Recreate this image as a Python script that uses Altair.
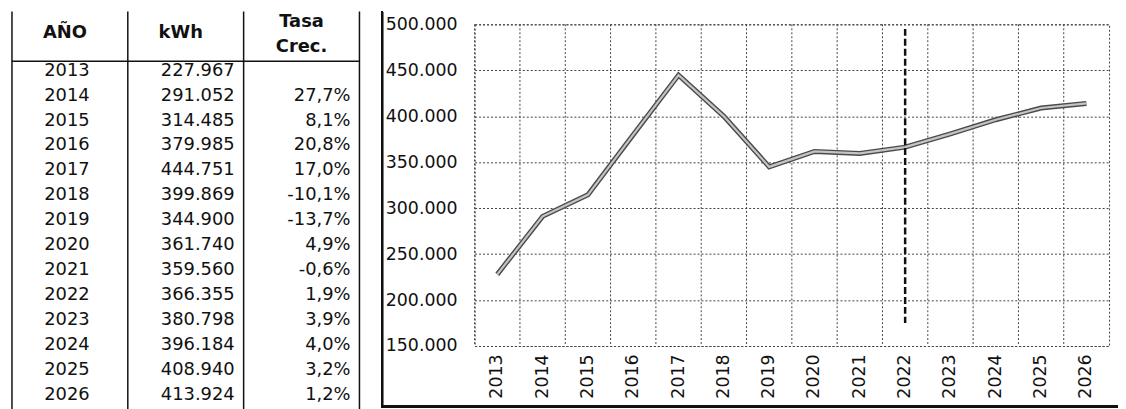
import altair as alt
import pandas as pd

# ---- data ----
years = [2013, 2014, 2015, 2016, 2017, 2018, 2019, 2020, 2021, 2022, 2023, 2024, 2025, 2026]
kwh = [227967, 291052, 314485, 379985, 444751, 399869, 344900, 361740, 359560,
       366355, 380798, 396184, 408940, 413924]
rates = [None, 27.7, 8.1, 20.8, 17.0, -10.1, -13.7, 4.9, -0.6, 1.9, 3.9, 4.0, 3.2, 1.2]
columns = ["AÑO", "kWh", "Tasa Crec."]
header_main = ["AÑO", "kWh"]
header_rate = ["Tasa", "Crec."]
y_ticks = [150000, 200000, 250000, 300000, 350000, 400000, 450000, 500000]
y_domain = [150000, 500000]
forecast_year = 2022
forecast_span = [495000, 175000]

FONT = "DejaVu Sans"
INK = "#111111"
GRID = "#444444"


def fmt_int(v):
    return f"{v:,}".replace(",", ".")


def fmt_rate(r):
    return f"{r:.1f}%".replace(".", ",")


# ---- line chart group ----
line_df = pd.DataFrame({"year": years, "kwh": kwh})
xs = alt.Scale(domain=years, paddingInner=0, paddingOuter=0)
ys = alt.Scale(domain=y_domain, nice=False, zero=False)

x_axis = alt.Axis(title=None, labelAngle=270, labelPadding=8, ticks=False, domain=False,
                  grid=False, labelFont=FONT, labelFontSize=17.5, labelColor=INK)
y_axis = alt.Axis(title=None, values=y_ticks,
                  labelExpr="replace(format(datum.value, ','), ',', '.')",
                  labelAlign="left", labelBaseline="middle", labelPadding=90, ticks=False,
                  domain=False, grid=True, gridDash=[2, 2], gridColor=GRID, gridWidth=1,
                  labelFont=FONT, labelFontSize=17.5, labelColor=INK)

vgrid = alt.Chart(pd.DataFrame({"year": years})).mark_rule(
    color=GRID, strokeDash=[2, 2], strokeWidth=1
).encode(x=alt.X("year:O", scale=xs, axis=x_axis, bandPosition=0))

line_outer = alt.Chart(line_df).mark_line(color="#4a4a4a", strokeWidth=5).encode(
    x=alt.X("year:O", scale=xs, axis=x_axis),
    y=alt.Y("kwh:Q", scale=ys, axis=y_axis),
)
line_inner = alt.Chart(line_df).mark_line(color="#c4c4c4", strokeWidth=2.2).encode(
    x=alt.X("year:O", scale=xs, axis=x_axis),
    y=alt.Y("kwh:Q", scale=ys, axis=y_axis),
)

fc_df = pd.DataFrame({"year": [forecast_year], "y1": [forecast_span[0]], "y2": [forecast_span[1]]})
forecast_rule = alt.Chart(fc_df).mark_rule(color=INK, strokeWidth=2.5, strokeDash=[7, 3]).encode(
    x=alt.X("year:O", scale=xs, axis=x_axis),
    y=alt.Y("y1:Q", scale=ys, axis=y_axis),
    y2="y2:Q",
)

frame_left = alt.Chart(line_df).mark_rule(color=INK, strokeWidth=1.5).encode(
    x=alt.value(-93), y=alt.value(-13), y2=alt.value(386)
)
frame_bottom = alt.Chart(line_df).mark_rule(color=INK, strokeWidth=2.5).encode(
    x=alt.value(-93), x2=alt.value(650), y=alt.value(385)
)

line_group = alt.layer(vgrid, line_outer, line_inner, forecast_rule, frame_left, frame_bottom)

# ---- table group ----
row_domain = ["h1", "h2"] + [str(y) for y in years]
cs = alt.Scale(domain=columns, range=[-466, -116], paddingInner=0, paddingOuter=0)
rs = alt.Scale(domain=row_domain, range=[-13, 388.6], paddingInner=0, paddingOuter=0)

body_rows = []
for y, k, r in zip(years, kwh, rates):
    body_rows.append({"col": "AÑO", "row": str(y), "t": str(y)})
    body_rows.append({"col": "kWh", "row": str(y), "t": fmt_int(k)})
    if r is not None:
        body_rows.append({"col": "Tasa Crec.", "row": str(y), "t": fmt_rate(r)})
body_df = pd.DataFrame(body_rows)

hdr_main_df = pd.DataFrame({"col": ["AÑO", "kWh"], "row": ["h2", "h2"], "t": header_main})
hdr_rate_df = pd.DataFrame({"col": ["Tasa Crec.", "Tasa Crec."], "row": ["h1", "h2"], "t": header_rate})

years_txt = alt.Chart(body_df).transform_filter(alt.datum.col == "AÑO").mark_text(
    font=FONT, fontSize=18, color=INK, align="center", baseline="middle", dx=-3, dy=-3
).encode(x=alt.X("col:N", scale=cs, axis=None), y=alt.Y("row:N", scale=rs, axis=None), text="t:N")

kwh_txt = alt.Chart(body_df).transform_filter(alt.datum.col == "kWh").mark_text(
    font=FONT, fontSize=18, color=INK, align="right", baseline="middle", dx=-9, dy=-3
).encode(x=alt.X("col:N", scale=cs, axis=None, bandPosition=1),
         y=alt.Y("row:N", scale=rs, axis=None), text="t:N")

rate_txt = alt.Chart(body_df).transform_filter(alt.datum.col == "Tasa Crec.").mark_text(
    font=FONT, fontSize=18, color=INK, align="right", baseline="middle", dx=-9, dy=-3
).encode(x=alt.X("col:N", scale=cs, axis=None, bandPosition=1),
         y=alt.Y("row:N", scale=rs, axis=None), text="t:N")

hdr_main = alt.Chart(hdr_main_df).mark_text(
    font=FONT, fontSize=18, fontWeight="bold", color=INK, align="center", baseline="middle", dx=-5, dy=-3
).encode(x=alt.X("col:N", scale=cs, axis=None),
         y=alt.Y("row:N", scale=rs, axis=None, bandPosition=0), text="t:N")

hdr_rate = alt.Chart(hdr_rate_df).mark_text(
    font=FONT, fontSize=18, fontWeight="bold", color=INK, align="center", baseline="middle", dy=-2
).encode(x=alt.X("col:N", scale=cs, axis=None),
         y=alt.Y("row:N", scale=rs, axis=None), text="t:N")

col_df = pd.DataFrame({"col": columns})
vlines = alt.Chart(col_df).mark_rule(color=INK, strokeWidth=1.5).encode(
    x=alt.X("col:N", scale=cs, axis=None, bandPosition=0), y=alt.value(-13), y2=alt.value(390)
)
vline_end = alt.Chart(col_df.tail(1)).mark_rule(color=INK, strokeWidth=1.5).encode(
    x=alt.X("col:N", scale=cs, axis=None, bandPosition=1), y=alt.value(-13), y2=alt.value(390)
)
hline = alt.Chart(pd.DataFrame({"row": [str(years[0])]})).mark_rule(color=INK, strokeWidth=1.5).encode(
    y=alt.Y("row:N", scale=rs, axis=None, bandPosition=0), x=alt.value(-466), x2=alt.value(-116)
)

table_group = alt.layer(vlines, vline_end, hline, hdr_main, hdr_rate, years_txt, kwh_txt, rate_txt)

chart = alt.layer(line_group, table_group).resolve_scale(
    x="independent", y="independent"
).properties(
    width=639, height=324,
    padding={"left": 470, "top": 15, "right": 9, "bottom": 62},
    autosize=alt.AutoSizeParams(type="none"),
    background="white",
).configure_view(stroke=GRID, strokeDash=[2, 2], strokeWidth=1)

chart.save("out.html", embed_options={"renderer": "svg", "actions": False})
